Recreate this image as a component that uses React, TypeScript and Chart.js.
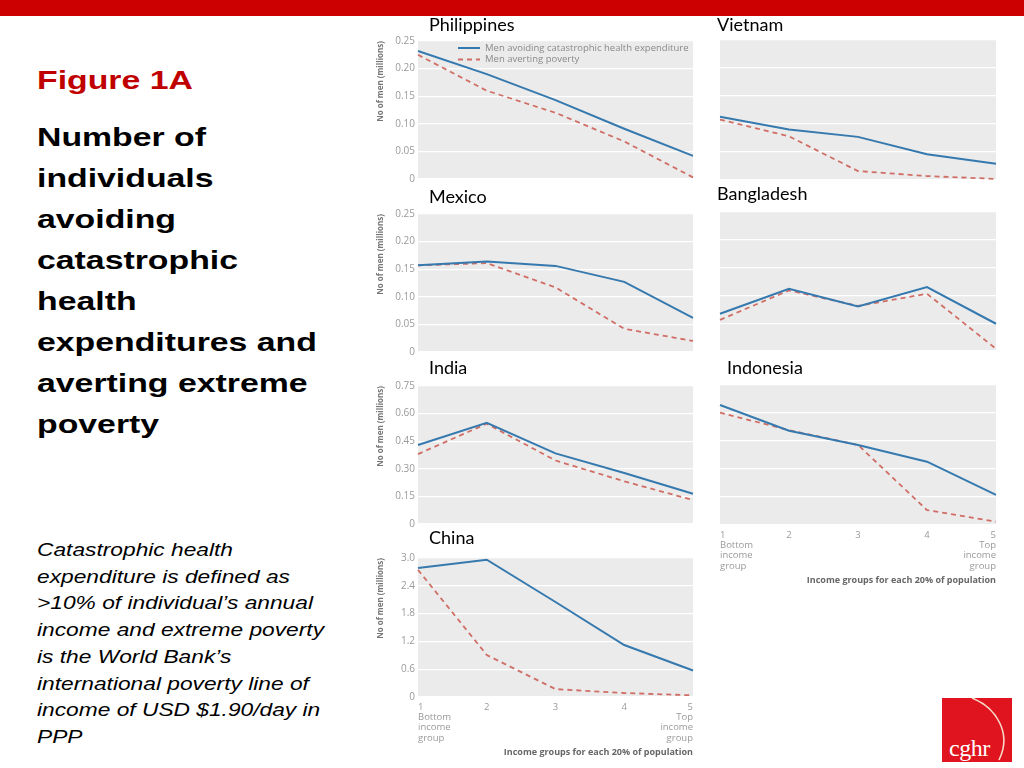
import React, { useEffect, useRef } from 'react';
import { Chart, registerables } from 'chart.js';

Chart.register(...registerables);

// ---------- data ----------
const incomeGroups: (string | string[])[] = [['1', 'Bottom', 'income', 'group'], '2', '3', '4', ['5', 'Top', 'income', 'group']];
const seriesLabels = ['Men avoiding catastrophic health expenditure', 'Men averting poverty'];
const xAxisTitle = 'Income groups for each 20% of population';
const yAxisTitle = 'No of men (millions)';

const philippinesCatastrophic = [0.232, 0.19, 0.143, 0.091, 0.042];
const philippinesPoverty = [0.225, 0.16, 0.12, 0.068, 0.003];
const vietnamCatastrophic = [0.113, 0.09, 0.077, 0.046, 0.029];
const vietnamPoverty = [0.108, 0.078, 0.016, 0.007, 0.002];
const mexicoCatastrophic = [0.157, 0.164, 0.156, 0.127, 0.062];
const mexicoPoverty = [0.157, 0.161, 0.117, 0.042, 0.02];
const bangladeshCatastrophic = [0.067, 0.112, 0.08, 0.115, 0.049];
const bangladeshPoverty = [0.056, 0.109, 0.081, 0.103, 0.004];
const indiaCatastrophic = [0.429, 0.55, 0.384, 0.277, 0.164];
const indiaPoverty = [0.38, 0.545, 0.345, 0.232, 0.13];
const indonesiaCatastrophic = [0.643, 0.505, 0.429, 0.339, 0.161];
const indonesiaPoverty = [0.602, 0.508, 0.429, 0.08, 0.018];
const chinaCatastrophic = [2.786, 2.964, 2.05, 1.121, 0.571];
const chinaPoverty = [2.743, 0.907, 0.171, 0.086, 0.036];

const smallAxis = { max: 0.25, step: 0.05, decimals: 2 };
const midAxis = { max: 0.75, step: 0.15, decimals: 2 };
const largeAxis = { max: 3.0, step: 0.6, decimals: 1 };

// ---------- layout / style ----------
const FONT = '"Open Sans", "DejaVu Sans", sans-serif';
const BLUE = '#3579ae';
const RED = '#d06e66';
const Y_AXIS_W = 42;
const PAD_T = 8;
const PAD_R = 10;
const PAD_B = 8;
const X_AXIS_H = 61;

type PanelDef = {
  name: string;
  cat: number[];
  pov: number[];
  axis: { max: number; step: number; decimals: number };
  left: number; top: number; w: number; h: number;
  showY: boolean; showX: boolean; legend: boolean;
  titleX: number; titleBase: number;
};

const panels: PanelDef[] = [
  { name: 'Philippines', cat: philippinesCatastrophic, pov: philippinesPoverty, axis: smallAxis, left: 418, top: 40, w: 275, h: 140, showY: true, showX: false, legend: true, titleX: 429, titleBase: 31 },
  { name: 'Vietnam', cat: vietnamCatastrophic, pov: vietnamPoverty, axis: smallAxis, left: 720, top: 40, w: 276, h: 140, showY: false, showX: false, legend: false, titleX: 717, titleBase: 31 },
  { name: 'Mexico', cat: mexicoCatastrophic, pov: mexicoPoverty, axis: smallAxis, left: 418, top: 213, w: 275, h: 140, showY: true, showX: false, legend: false, titleX: 429, titleBase: 203 },
  { name: 'Bangladesh', cat: bangladeshCatastrophic, pov: bangladeshPoverty, axis: smallAxis, left: 720, top: 212, w: 276, h: 139, showY: false, showX: false, legend: false, titleX: 717, titleBase: 200 },
  { name: 'India', cat: indiaCatastrophic, pov: indiaPoverty, axis: midAxis, left: 418, top: 385, w: 275, h: 140, showY: true, showX: false, legend: false, titleX: 429, titleBase: 374 },
  { name: 'Indonesia', cat: indonesiaCatastrophic, pov: indonesiaPoverty, axis: midAxis, left: 720, top: 385, w: 276, h: 140, showY: false, showX: true, legend: false, titleX: 727, titleBase: 374 },
  { name: 'China', cat: chinaCatastrophic, pov: chinaPoverty, axis: largeAxis, left: 418, top: 557, w: 275, h: 140, showY: true, showX: true, legend: false, titleX: 429, titleBase: 544 },
];

const plotBackground = {
  id: 'plotBackground',
  beforeDraw(chart: any) {
    const { ctx, chartArea: a } = chart;
    ctx.save();
    ctx.fillStyle = '#ebebeb';
    ctx.fillRect(a.left, a.top, a.right - a.left, a.bottom - a.top);
    ctx.restore();
  },
};

const innerLegend = {
  id: 'innerLegend',
  afterDatasetsDraw(chart: any, _args: any, opts: any) {
    if (!opts || !opts.show) return;
    const { ctx, chartArea: a } = chart;
    const x0 = a.left + 40;
    const y0 = a.top + 7;
    ctx.save();
    chart.data.datasets.forEach((ds: any, i: number) => {
      const y = y0 + i * 11.5;
      ctx.beginPath();
      ctx.strokeStyle = ds.borderColor;
      ctx.lineWidth = 2;
      ctx.setLineDash(ds.borderDash || []);
      ctx.moveTo(x0, y);
      ctx.lineTo(x0 + 22, y);
      ctx.stroke();
      ctx.setLineDash([]);
      ctx.fillStyle = '#8a8a8a';
      ctx.font = `9.5px ${FONT}`;
      ctx.textBaseline = 'middle';
      ctx.textAlign = 'left';
      ctx.fillText(ds.label, x0 + 27, y);
    });
    ctx.restore();
  },
};

function Panel({ p }: { p: PanelDef }) {
  const ref = useRef<HTMLCanvasElement | null>(null);
  const cw = Y_AXIS_W + p.w + PAD_R;
  const ch = PAD_T + p.h + (p.showX ? X_AXIS_H : 0) + PAD_B;

  useEffect(() => {
    if (!ref.current) return;
    const chart = new Chart(ref.current, {
      type: 'line',
      data: {
        labels: incomeGroups as any,
        datasets: [
          { label: seriesLabels[0], data: p.cat, borderColor: BLUE, borderWidth: 2, pointRadius: 0, tension: 0, fill: false },
          { label: seriesLabels[1], data: p.pov, borderColor: RED, borderWidth: 1.8, borderDash: [5, 4], pointRadius: 0, tension: 0, fill: false },
        ],
      },
      options: {
        responsive: false,
        animation: false,
        layout: { padding: { left: 0, top: PAD_T, right: PAD_R, bottom: PAD_B } },
        plugins: {
          legend: { display: false },
          tooltip: { enabled: false },
          innerLegend: { show: p.legend },
        } as any,
        scales: {
          x: {
            offset: false,
            grid: { display: false, drawTicks: false },
            border: { display: false },
            ticks: {
              display: p.showX,
              align: 'inner',
              autoSkip: false,
              maxRotation: 0,
              color: '#9a9a9a',
              padding: 5,
              font: { family: FONT, size: 9.5, lineHeight: 1.08 },
            },
            title: {
              display: p.showX,
              text: xAxisTitle,
              align: 'end',
              color: '#666',
              padding: 0,
              font: { family: FONT, size: 9, weight: 'bold' },
            },
            afterFit: (s: any) => { s.height = p.showX ? X_AXIS_H : 0; },
          } as any,
          y: {
            min: 0,
            max: p.axis.max,
            grid: { color: '#ffffff', lineWidth: 1.2, drawTicks: false },
            border: { display: false },
            ticks: {
              display: p.showY,
              stepSize: p.axis.step,
              color: '#9a9a9a',
              padding: 3,
              font: { family: FONT, size: 10 },
              callback: (v: any) => (Number(v) === 0 ? '0' : Number(v).toFixed(p.axis.decimals)),
            },
            title: {
              display: p.showY,
              text: yAxisTitle,
              align: 'end',
              color: '#777',
              padding: 0,
              font: { family: FONT, size: 8, weight: 'bold' },
            },
            afterFit: (s: any) => { s.width = Y_AXIS_W; },
          } as any,
        },
      },
      plugins: [plotBackground, innerLegend],
    });
    return () => chart.destroy();
  }, []);

  return (
    <>
      <canvas
        ref={ref}
        width={cw}
        height={ch}
        style={{ position: 'absolute', left: p.left - Y_AXIS_W, top: p.top - PAD_T, width: cw, height: ch }}
      />
      <div
        style={{
          position: 'absolute',
          left: p.titleX,
          top: p.titleBase - 16,
          fontFamily: 'Lato, "Open Sans", sans-serif',
          fontSize: 18,
          lineHeight: '18px',
          color: '#000',
          whiteSpace: 'nowrap',
          zIndex: 2,
        }}
      >
        {p.name}
      </div>
    </>
  );
}

const headingLines = ['Number of', 'individuals', 'avoiding', 'catastrophic', 'health', 'expenditures and', 'averting extreme', 'poverty'];
const noteLines = [
  'Catastrophic health',
  'expenditure is defined as',
  '>10% of individual\u2019s annual',
  'income and extreme poverty',
  'is the World Bank\u2019s',
  'international poverty line of',
  'income of USD $1.90/day in',
  'PPP',
];

export default function App() {
  const sans = '"Liberation Sans", Arial, Helvetica, sans-serif';
  return (
    <div style={{ position: 'absolute', left: 0, top: 0, width: 1024, height: 768, background: '#fff', overflow: 'hidden' }}>
      <div style={{ position: 'absolute', left: 0, top: 0, width: 1024, height: 16, background: '#cc0000' }} />
      <div
        style={{
          position: 'absolute', left: 37, top: 60, fontFamily: sans, fontWeight: 'bold', fontSize: 26,
          lineHeight: '41px', color: '#c00000', transform: 'scaleX(1.3)', transformOrigin: 'left top', whiteSpace: 'nowrap',
        }}
      >
        Figure 1A
      </div>
      <div
        style={{
          position: 'absolute', left: 37, top: 117, fontFamily: sans, fontWeight: 'bold', fontSize: 26,
          lineHeight: '41px', color: '#000', transform: 'scaleX(1.3)', transformOrigin: 'left top', whiteSpace: 'nowrap',
        }}
      >
        {headingLines.map((l, i) => <div key={i}>{l}</div>)}
      </div>
      <div
        style={{
          position: 'absolute', left: 37, top: 537, fontFamily: sans, fontStyle: 'italic', fontSize: 17.5,
          lineHeight: '26.7px', color: '#000', transform: 'scaleX(1.3)', transformOrigin: 'left top', whiteSpace: 'nowrap',
        }}
      >
        {noteLines.map((l, i) => <div key={i}>{l}</div>)}
      </div>

      {panels.map((p) => <Panel key={p.name} p={p} />)}

      <div style={{ position: 'absolute', left: 942, top: 698, width: 70, height: 64, background: '#e0141e', overflow: 'hidden' }}>
        <svg width={70} height={64} style={{ position: 'absolute', left: 0, top: 0 }}>
          <path d="M 30 0 C 55 10, 70 36, 57 62" stroke="#f6d8c8" strokeWidth={1.6} fill="none" />
        </svg>
        <div
          style={{
            position: 'absolute', left: 7, top: 38, fontFamily: '"Liberation Serif", "DejaVu Serif", serif',
            fontSize: 24, lineHeight: '24px', color: '#ffffff', letterSpacing: -0.5,
          }}
        >
          cghr
        </div>
      </div>
    </div>
  );
}
